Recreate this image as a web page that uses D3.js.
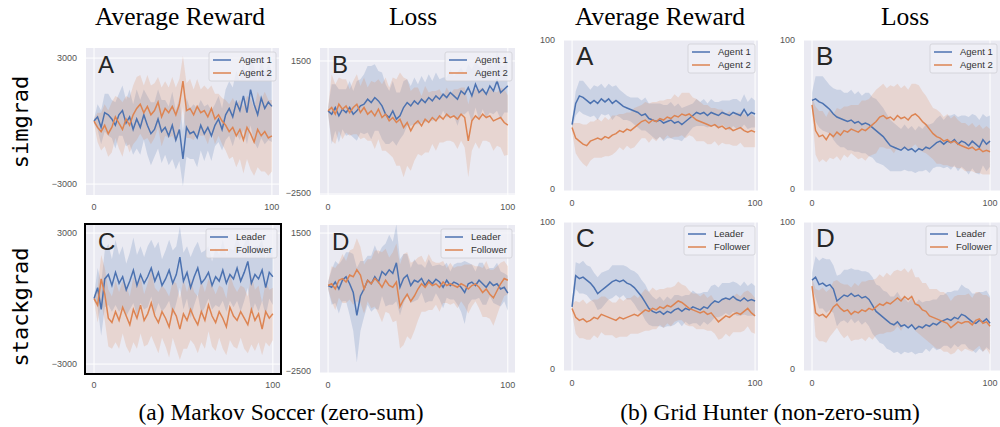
<!DOCTYPE html>
<html lang="en">
<head>
<meta charset="UTF-8">
<title>simgrad vs stackgrad</title>
<style>
  body { margin: 0; background: #fff; }
  svg { display: block; }
  .tick-label { font-family: "Liberation Sans", Arial, sans-serif; font-size: 9px; fill: #555; }
  .col-title { font-family: "Liberation Serif", "Times New Roman", serif; font-size: 25.5px; fill: #000; }
  .row-title { font-family: "DejaVu Sans Mono", monospace; font-size: 22px; fill: #000; }
  .caption { font-family: "Liberation Serif", "Times New Roman", serif; font-size: 23.5px; fill: #000; }
  .letter { font-family: "Liberation Sans", Arial, sans-serif; fill: #262626; }
  .legend-text { font-family: "Liberation Sans", Arial, sans-serif; font-size: 9.5px; fill: #333; }
</style>
</head>
<body>
<svg></svg>
<script src="https://cdn.jsdelivr.net/npm/d3@7"></script>
<script>
  // x positions shared by every curve (every 2nd iteration)
  let steps = d3.range(0, 101, 2);

  let agentNames = ['Agent 1', 'Agent 2'];
  let stackNames = ['Leader', 'Follower'];
  let soccerRewardTicks = [-3000, 3000];
  let soccerLossTicks = [-2500, 1500];
  let hunterTicks = [0, 100];
  let xTicks = [0, 100];

  // (a) Markov Soccer, simgrad, average reward
  let msSimRewardA1 = [0, 200, -300, 400, 300, 100, -200, 300, 500, -100, 200, -400, 100, -300, 300, -200, -600, -400, 100, -500, -300, -700, -200, -900, -400, -1800, -300, -600, -500, -800, -200, -600, -300, -700, -200, 100, -400, 300, 600, 200, 900, 500, 1200, 400, 1500, 800, 300, 1100, 600, 900, 700];
  let msSimRewardA1Band = [100, 600, 800, 900, 1000, 900, 1100, 1000, 1200, 1100, 1300, 1200, 1400, 1300, 1200, 1400, 1500, 1300, 1400, 1500, 1300, 1400, 1600, 1400, 1500, 1300, 1400, 1200, 1300, 1400, 1200, 1300, 1100, 1200, 1000, 1100, 1000, 1200, 1300, 1400, 1500, 1400, 1600, 1500, 1700, 1800, 1600, 1900, 1700, 1800, 1700];
  let msSimRewardA2 = [0, -300, -500, -200, -600, -300, 200, -100, -400, 100, -200, 300, 600, 800, 400, 700, 300, 500, 900, 200, 600, 400, 700, 300, 800, 1900, 500, 600, 300, 700, 400, 500, 200, 600, 100, 300, 0, -200, -500, -300, -700, -400, -900, -300, -600, -1000, -400, -700, -500, -800, -700];
  let msSimRewardA2Band = [100, 700, 900, 1000, 1100, 1200, 1000, 1200, 1300, 1100, 1300, 1400, 1500, 1400, 1300, 1500, 1400, 1300, 1200, 1400, 1300, 1200, 1400, 1300, 1200, 1200, 1300, 1400, 1200, 1300, 1100, 1200, 1300, 1100, 1200, 1000, 1100, 1200, 1300, 1400, 1500, 1400, 1600, 1500, 1700, 1600, 1800, 1700, 1900, 1800, 1700];

  // (a) Markov Soccer, simgrad, loss
  let msSimLossA1 = [0, -100, 100, -150, 50, -50, 100, -100, 0, 150, 200, 350, 250, 400, 300, 150, -100, -200, 0, -250, -150, 100, 250, 150, 300, 200, 350, 250, 400, 300, 450, 350, 500, 400, 550, 450, 350, 600, 500, 700, 450, 800, 550, 650, 500, 750, 600, 900, 550, 650, 750];
  let msSimLossA1Band = [100, 900, 700, 800, 600, 700, 800, 700, 900, 800, 900, 1000, 1100, 1000, 900, 1000, 900, 800, 900, 800, 700, 800, 700, 600, 700, 600, 700, 600, 700, 600, 700, 600, 500, 600, 700, 600, 800, 700, 600, 700, 800, 700, 800, 600, 700, 800, 700, 900, 800, 700, 800];
  let msSimLossA2 = [0, 100, -100, 200, 50, 150, -50, 100, 200, -50, 100, -100, 0, -150, 50, -200, -100, -300, -200, -350, -250, -500, -350, -600, -400, -300, -450, -250, -350, -200, -300, -150, -250, -100, -200, -150, -250, -100, -200, -900, -300, -150, -250, -100, -200, -150, -300, -250, -200, -350, -430];
  let msSimLossA2Band = [100, 1000, 900, 800, 900, 800, 700, 800, 900, 800, 900, 800, 900, 1000, 900, 1000, 1100, 1000, 1200, 1300, 1400, 1500, 1300, 1200, 1100, 1000, 900, 1000, 900, 800, 900, 800, 700, 800, 700, 800, 900, 800, 900, 1100, 900, 800, 900, 800, 700, 800, 900, 800, 900, 1000, 900];

  // (a) Markov Soccer, stackgrad, average reward
  let msStackRewardLeader = [0, 500, -500, 900, 1100, 600, 1200, 700, 1000, 400, 800, 1300, 600, 1100, 700, 1000, 1400, 800, 1200, 600, 900, 1300, 700, 1100, 1900, 800, 1200, 500, 1000, 1400, 700, 900, 1200, 600, 1000, 800, 1300, 700, 1100, 900, 1400, 800, 1200, 1700, 700, 1100, 900, 1300, 500, 1200, 1000];
  let msStackRewardLeaderBand = [100, 900, 1200, 1300, 1400, 1200, 1500, 1300, 1400, 1200, 1300, 1500, 1400, 1300, 1200, 1400, 1300, 1500, 1400, 1200, 1300, 1400, 1500, 1300, 1400, 1300, 1200, 1400, 1300, 1200, 1400, 1300, 1200, 1100, 1300, 1200, 1400, 1300, 1200, 1300, 1500, 1400, 1300, 1200, 1400, 1300, 1500, 1400, 1300, 1200, 1300];
  let msStackRewardFollower = [0, -300, 900, 200, -900, -1100, -600, -1000, -400, -800, -1200, -500, -900, -300, -1000, -700, -200, -800, -1100, -600, -900, -1300, -500, -800, -1400, -700, -1000, -500, -900, -1200, -600, -1000, -300, -800, -1100, -600, -900, -1300, -400, -800, -1000, -600, -900, -1200, -500, -1000, -700, -1400, -600, -900, -700];
  let msStackRewardFollowerBand = [100, 800, 1100, 1200, 1300, 1200, 1400, 1300, 1200, 1400, 1300, 1500, 1400, 1300, 1200, 1400, 1500, 1300, 1400, 1200, 1300, 1400, 1300, 1500, 1400, 1600, 1300, 1400, 1200, 1300, 1400, 1300, 1200, 1400, 1300, 1200, 1400, 1300, 1500, 1400, 1300, 1200, 1400, 1300, 1600, 1400, 1300, 1200, 1400, 1300, 1200];

  // (a) Markov Soccer, stackgrad, loss
  let msStackLossLeader = [0, -50, 100, -100, 150, 250, 50, -200, -850, -300, -100, 150, 50, 250, 100, 400, 300, 450, 350, 650, -50, 200, 300, 0, 150, 100, 200, 0, 150, 50, 180, 100, -50, 150, 0, 100, 50, -50, -200, 50, 100, 0, 150, 50, -50, 100, 0, 50, -100, -50, -220];
  let msStackLossLeaderBand = [100, 500, 600, 700, 600, 700, 900, 1100, 1350, 1000, 800, 700, 800, 900, 800, 700, 900, 1000, 900, 1100, 800, 700, 600, 500, 600, 500, 400, 500, 600, 500, 400, 500, 600, 500, 400, 500, 600, 700, 900, 600, 500, 400, 500, 600, 500, 400, 500, 600, 500, 400, 500];
  let msStackLossFollower = [0, 50, -100, 150, 200, 100, 300, 250, 450, 300, -100, 150, 50, 200, 100, -50, 150, 0, -50, 100, -600, -400, -250, -450, -300, -100, 50, -50, 100, 0, 50, -50, 100, 0, 50, 0, -50, 50, 0, -100, 0, 50, -50, -200, -100, -250, -350, -150, 50, 200, 150];
  let msStackLossFollowerBand = [100, 500, 600, 500, 700, 600, 700, 800, 900, 800, 700, 600, 700, 800, 900, 1000, 900, 800, 1000, 1100, 1200, 1300, 1200, 1100, 1000, 900, 800, 700, 800, 700, 600, 700, 600, 500, 600, 500, 600, 500, 600, 700, 600, 500, 600, 700, 800, 700, 800, 700, 600, 500, 400];

  // (b) Grid Hunter, simgrad, average reward
  let ghSimRewardA1 = [44, 58, 63, 62, 60, 58, 60, 58, 61, 59, 61, 58, 60, 58, 56, 55, 54, 53, 52, 50, 51, 48, 47, 46, 47, 45, 46, 47, 45, 46, 44, 46, 48, 50, 52, 51, 52, 50, 52, 51, 50, 52, 51, 50, 52, 51, 50, 54, 50, 52, 51];
  let ghSimRewardA1Band = [3, 8, 10, 11, 10, 9, 10, 11, 10, 9, 10, 11, 10, 9, 9, 8, 8, 9, 10, 10, 11, 10, 11, 12, 11, 12, 11, 12, 11, 12, 11, 10, 9, 8, 9, 8, 9, 8, 9, 8, 9, 8, 9, 10, 9, 10, 9, 10, 9, 10, 9];
  let ghSimRewardA2 = [42, 35, 33, 31, 30, 33, 34, 35, 34, 36, 35, 37, 38, 40, 39, 41, 40, 42, 44, 46, 47, 45, 47, 46, 48, 47, 49, 48, 50, 49, 51, 50, 51, 49, 47, 46, 45, 44, 43, 44, 42, 43, 41, 42, 40, 41, 42, 40, 39, 40, 39];
  let ghSimRewardA2Band = [3, 10, 12, 13, 14, 13, 12, 13, 12, 13, 12, 13, 12, 11, 12, 11, 12, 13, 12, 11, 12, 13, 12, 13, 12, 13, 12, 13, 14, 13, 14, 15, 14, 13, 14, 13, 12, 13, 12, 11, 12, 11, 10, 11, 10, 11, 10, 11, 10, 11, 10];

  // (b) Grid Hunter, simgrad, loss
  let ghSimLossA1 = [60, 61, 59, 58, 56, 54, 51, 49, 48, 47, 46, 47, 45, 46, 44, 45, 44, 42, 40, 38, 36, 33, 30, 29, 28, 27, 29, 27, 28, 26, 28, 27, 29, 28, 30, 32, 33, 31, 33, 32, 34, 31, 33, 32, 30, 33, 31, 29, 34, 31, 33];
  let ghSimLossA1Band = [5, 15, 17, 18, 17, 16, 17, 18, 19, 18, 19, 20, 19, 20, 19, 20, 21, 20, 21, 20, 19, 18, 17, 16, 15, 14, 15, 14, 15, 14, 15, 14, 15, 16, 15, 16, 17, 16, 17, 18, 17, 18, 17, 18, 19, 18, 19, 18, 17, 18, 17];
  let ghSimLossA2 = [57, 40, 36, 37, 34, 38, 36, 39, 37, 40, 39, 41, 40, 39, 41, 40, 42, 44, 46, 49, 50, 48, 49, 47, 50, 48, 49, 47, 50, 51, 49, 46, 44, 41, 38, 36, 35, 33, 34, 32, 33, 31, 30, 29, 28, 29, 27, 28, 26, 27, 26];
  let ghSimLossA2Band = [5, 16, 17, 16, 15, 16, 15, 16, 17, 16, 17, 16, 17, 18, 19, 20, 19, 20, 21, 20, 21, 20, 21, 22, 21, 20, 21, 20, 21, 20, 21, 20, 19, 18, 17, 18, 17, 16, 17, 16, 17, 16, 15, 16, 15, 16, 15, 16, 15, 16, 15];

  // (b) Grid Hunter, stackgrad, average reward
  let ghStackRewardLeader = [43, 64, 62, 63, 61, 59, 56, 52, 54, 56, 58, 60, 61, 60, 61, 59, 58, 56, 53, 50, 46, 42, 40, 39, 40, 38, 40, 39, 41, 42, 40, 42, 41, 43, 42, 41, 43, 42, 45, 47, 46, 48, 49, 48, 50, 48, 47, 49, 47, 48, 47];
  let ghStackRewardLeaderBand = [3, 9, 10, 11, 10, 11, 10, 11, 12, 11, 10, 11, 10, 11, 10, 11, 10, 11, 12, 11, 12, 11, 10, 9, 10, 9, 10, 9, 10, 9, 10, 9, 10, 11, 10, 11, 10, 11, 12, 11, 10, 11, 10, 11, 10, 11, 10, 11, 10, 11, 10];
  let ghStackRewardFollower = [42, 36, 34, 35, 33, 34, 36, 35, 38, 37, 36, 35, 34, 36, 35, 36, 37, 38, 37, 39, 41, 40, 42, 41, 43, 42, 44, 43, 45, 47, 46, 44, 42, 41, 40, 39, 40, 38, 39, 36, 33, 35, 37, 36, 38, 39, 38, 40, 42, 39, 37];
  let ghStackRewardFollowerBand = [3, 11, 12, 13, 12, 13, 12, 13, 12, 13, 12, 11, 12, 13, 12, 13, 12, 13, 12, 13, 14, 13, 14, 13, 12, 13, 12, 13, 12, 13, 12, 13, 12, 11, 12, 11, 12, 11, 12, 11, 12, 13, 12, 13, 12, 13, 12, 13, 12, 13, 12];

  // (b) Grid Hunter, stackgrad, loss
  let ghStackLossLeader = [61, 63, 58, 59, 57, 58, 55, 47, 49, 51, 50, 52, 50, 51, 49, 50, 48, 44, 40, 38, 36, 34, 32, 31, 33, 30, 31, 29, 31, 28, 30, 29, 31, 30, 32, 31, 33, 34, 35, 34, 36, 35, 38, 37, 35, 33, 32, 34, 33, 35, 32];
  let ghStackLossLeaderBand = [5, 14, 16, 17, 18, 17, 16, 17, 16, 17, 18, 17, 18, 17, 18, 17, 18, 19, 18, 19, 18, 19, 18, 19, 20, 19, 18, 17, 18, 17, 18, 17, 16, 17, 16, 17, 18, 17, 18, 19, 18, 19, 20, 19, 20, 19, 20, 19, 20, 19, 18];
  let ghStackLossFollower = [57, 39, 37, 38, 36, 39, 43, 45, 42, 40, 41, 38, 40, 39, 41, 40, 42, 41, 43, 45, 44, 46, 45, 47, 49, 47, 50, 48, 50, 45, 44, 41, 40, 37, 36, 35, 34, 33, 32, 29, 31, 33, 32, 33, 33, 31, 34, 35, 32, 33, 30];
  let ghStackLossFollowerBand = [5, 16, 17, 18, 17, 16, 17, 16, 17, 18, 17, 18, 19, 18, 19, 20, 19, 20, 19, 20, 19, 20, 19, 20, 19, 20, 19, 18, 19, 18, 19, 18, 19, 18, 19, 20, 19, 20, 19, 18, 19, 18, 19, 18, 19, 18, 19, 18, 19, 18, 19];

  let colors = ['#4c72b0', '#dd8452'];

  let width = 1000,
    height = 427;

  let svg = d3.select('svg')
    .attr('width', width)
    .attr('height', height);

  let panels = [
    { left: 86, top: 48, w: 193, h: 147, xDomain: [-4.5, 104], yDomain: [-3520, 3480], yTicks: soccerRewardTicks, letter: 'A', letterSize: 24, names: agentNames, means: [msSimRewardA1, msSimRewardA2], bands: [msSimRewardA1Band, msSimRewardA2Band] },
    { left: 320, top: 48, w: 195, h: 147, xDomain: [-4.5, 104], yDomain: [-2530, 1890], yTicks: soccerLossTicks, letter: 'B', letterSize: 24, names: agentNames, means: [msSimLossA1, msSimLossA2], bands: [msSimLossA1Band, msSimLossA2Band] },
    { left: 86, top: 225, w: 194, h: 148, xDomain: [-4.5, 104], yDomain: [-3410, 3370], yTicks: soccerRewardTicks, letter: 'C', letterSize: 24, names: stackNames, means: [msStackRewardLeader, msStackRewardFollower], bands: [msStackRewardLeaderBand, msStackRewardFollowerBand], frame: true },
    { left: 320, top: 225, w: 195, h: 148, xDomain: [-4.5, 104], yDomain: [-2500, 1730], yTicks: soccerLossTicks, letter: 'D', letterSize: 24, names: stackNames, means: [msStackLossLeader, msStackLossFollower], bands: [msStackLossLeaderBand, msStackLossFollowerBand] },
    { left: 564, top: 40, w: 194, h: 151, xDomain: [-4.4, 101.6], yDomain: [0, 100], yTicks: hunterTicks, letter: 'A', letterSize: 26, names: agentNames, means: [ghSimRewardA1, ghSimRewardA2], bands: [ghSimRewardA1Band, ghSimRewardA2Band] },
    { left: 804, top: 40, w: 196, h: 151, xDomain: [-4.5, 105.6], yDomain: [0, 100], yTicks: hunterTicks, letter: 'B', letterSize: 26, names: agentNames, means: [ghSimLossA1, ghSimLossA2], bands: [ghSimLossA1Band, ghSimLossA2Band] },
    { left: 564, top: 222, w: 194, h: 149, xDomain: [-4.4, 101.6], yDomain: [0, 100], yTicks: hunterTicks, letter: 'C', letterSize: 26, names: stackNames, means: [ghStackRewardLeader, ghStackRewardFollower], bands: [ghStackRewardLeaderBand, ghStackRewardFollowerBand] },
    { left: 804, top: 222, w: 196, h: 149, xDomain: [-4.5, 105.6], yDomain: [0, 100], yTicks: hunterTicks, letter: 'D', letterSize: 26, names: stackNames, means: [ghStackLossLeader, ghStackLossFollower], bands: [ghStackLossLeaderBand, ghStackLossFollowerBand] }
  ];

  panels.forEach(drawPanel);

  function drawPanel(p) {
    let x = d3.scaleLinear().domain(p.xDomain).range([p.left, p.left + p.w]);
    let y = d3.scaleLinear().domain(p.yDomain).range([p.top + p.h, p.top]);

    let g = svg.append('g');

    g.append('rect')
      .attr('x', p.left)
      .attr('y', p.top)
      .attr('width', p.w)
      .attr('height', p.h)
      .attr('fill', '#eaeaf2');

    // white grid lines
    g.selectAll('.vgrid')
      .data(xTicks)
      .enter()
      .append('line')
      .attr('x1', d => x(d))
      .attr('x2', d => x(d))
      .attr('y1', p.top)
      .attr('y2', p.top + p.h)
      .attr('stroke', '#fff')
      .attr('stroke-width', 1);

    g.selectAll('.hgrid')
      .data(p.yTicks)
      .enter()
      .append('line')
      .attr('x1', p.left)
      .attr('x2', p.left + p.w)
      .attr('y1', d => y(d))
      .attr('y2', d => y(d))
      .attr('stroke', '#fff')
      .attr('stroke-width', 1);

    // tick labels
    g.selectAll('.ylab')
      .data(p.yTicks)
      .enter()
      .append('text')
      .attr('class', 'tick-label')
      .attr('x', p.left - 9)
      .attr('y', d => Math.min(y(d), p.top + p.h - 2))
      .attr('dy', '0.35em')
      .attr('text-anchor', 'end')
      .text(d => d < 0 ? '\u2212' + Math.abs(d) : d);

    g.selectAll('.xlab')
      .data(xTicks)
      .enter()
      .append('text')
      .attr('class', 'tick-label')
      .attr('x', d => x(d))
      .attr('y', p.top + p.h + 12)
      .attr('dy', '0.35em')
      .attr('text-anchor', 'middle')
      .text(d => d);

    let area = d3.area()
      .x((d, i) => x(steps[i]))
      .y0(d => y(d[0] - d[1]))
      .y1(d => y(d[0] + d[1]));

    let line = d3.line()
      .x((d, i) => x(steps[i]))
      .y(d => y(d));

    let clipId = 'clip-' + p.left + '-' + p.top;
    g.append('clipPath')
      .attr('id', clipId)
      .append('rect')
      .attr('x', p.left)
      .attr('y', p.top)
      .attr('width', p.w)
      .attr('height', p.h);

    let plot = g.append('g').attr('clip-path', `url(#${clipId})`);

    p.means.forEach((m, k) => {
      plot.append('path')
        .datum(m.map((v, i) => [v, p.bands[k][i]]))
        .attr('d', area)
        .attr('fill', colors[k])
        .attr('fill-opacity', 0.2);
    });

    p.means.forEach((m, k) => {
      plot.append('path')
        .datum(m)
        .attr('d', line)
        .attr('fill', 'none')
        .attr('stroke', colors[k])
        .attr('stroke-width', 1.5);
    });

    // panel letter
    g.append('text')
      .attr('class', 'letter')
      .attr('x', p.left + 12)
      .attr('y', p.top + 25)
      .style('font-size', p.letterSize + 'px')
      .text(p.letter);

    // legend
    let lw = p.names[0] === 'Leader' ? 71 : 67;
    let lx = p.left + p.w - 3 - lw,
      ly = p.top + 4;

    let leg = g.append('g');
    leg.append('rect')
      .attr('x', lx)
      .attr('y', ly)
      .attr('width', lw)
      .attr('height', 29)
      .attr('rx', 2)
      .attr('fill', '#f0f0f6')
      .attr('fill-opacity', 0.8)
      .attr('stroke', '#cfcfd6')
      .attr('stroke-width', 0.8);

    p.names.forEach((n, k) => {
      let ry = ly + 8 + k * 13;
      leg.append('line')
        .attr('x1', lx + 4)
        .attr('x2', lx + 22)
        .attr('y1', ry)
        .attr('y2', ry)
        .attr('stroke', colors[k])
        .attr('stroke-width', 1.5);
      leg.append('text')
        .attr('class', 'legend-text')
        .attr('x', lx + 30)
        .attr('y', ry)
        .attr('dy', '0.35em')
        .text(n);
    });

    if (p.frame) {
      g.append('rect')
        .attr('x', p.left - 1)
        .attr('y', p.top - 1)
        .attr('width', p.w + 2)
        .attr('height', p.h + 2)
        .attr('fill', 'none')
        .attr('stroke', '#000')
        .attr('stroke-width', 2);
    }
  }

  // column titles
  let colTitles = [
    { text: 'Average Reward', x: 180 },
    { text: 'Loss', x: 413 },
    { text: 'Average Reward', x: 660 },
    { text: 'Loss', x: 905 }
  ];

  svg.selectAll('.col-title')
    .data(colTitles)
    .enter()
    .append('text')
    .attr('class', 'col-title')
    .attr('x', d => d.x)
    .attr('y', 25)
    .attr('text-anchor', 'middle')
    .text(d => d.text);

  // row titles
  let rowTitles = [
    { text: 'simgrad', y: 122 },
    { text: 'stackgrad', y: 307 }
  ];

  svg.selectAll('.row-title')
    .data(rowTitles)
    .enter()
    .append('text')
    .attr('class', 'row-title')
    .attr('transform', d => `translate(28,${d.y}) rotate(-90)`)
    .attr('text-anchor', 'middle')
    .text(d => d.text);

  // captions
  let captions = [
    { text: '(a) Markov Soccer (zero-sum)', x: 281 },
    { text: '(b) Grid Hunter (non-zero-sum)', x: 770 }
  ];

  svg.selectAll('.caption')
    .data(captions)
    .enter()
    .append('text')
    .attr('class', 'caption')
    .attr('x', d => d.x)
    .attr('y', 420)
    .attr('text-anchor', 'middle')
    .text(d => d.text);
</script>
</body>
</html>
